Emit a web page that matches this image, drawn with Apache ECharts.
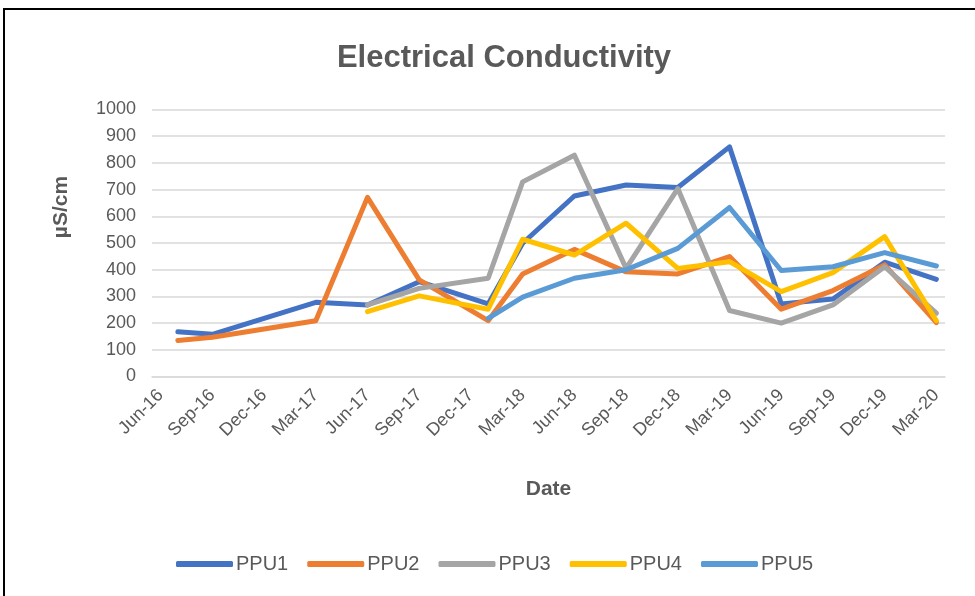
<!DOCTYPE html>
<html>
<head>
<meta charset="utf-8">
<script src="https://cdn.jsdelivr.net/npm/echarts@6/dist/echarts.min.js"></script>
<style>
  html, body { margin: 0; padding: 0; background: #fff; }
  #wrap { position: relative; width: 975px; height: 596px; overflow: hidden; }
  #chart { width: 975px; height: 596px; }
  #frame { position: absolute; left: 3px; top: 8px; width: 990px; height: 620px; border: 2px solid #000; box-sizing: border-box; pointer-events: none; }
</style>
</head>
<body>
<div id="wrap">
  <div id="chart"></div>
  <div id="frame"></div>
</div>
<script>
// monthly slots Jun-16 .. Mar-20, every 3rd one labelled
const monthNames = ["Jan", "Feb", "Mar", "Apr", "May", "Jun", "Jul", "Aug", "Sep", "Oct", "Nov", "Dec"];
const months = [];
for (let i = 0; i < 46; i++) {
  months.push(monthNames[(5 + i) % 12] + "-" + (16 + Math.floor((5 + i) / 12)));
}

const datesA = ["Jul-16", "Sep-16", "Mar-17", "Jun-17", "Sep-17", "Jan-18", "Mar-18", "Jun-18", "Sep-18", "Dec-18", "Mar-19", "Jun-19", "Sep-19", "Dec-19", "Mar-20"];
const ppu1 = [168, 158, 278, 268, 355, 272, 499, 676, 717, 708, 860, 272, 290, 428, 364];
const ppu2 = [135, 147, 209, 671, 362, 209, 384, 476, 392, 384, 449, 252, 322, 418, 202];

const datesB = ["Jun-17", "Sep-17", "Jan-18", "Mar-18", "Jun-18", "Sep-18", "Dec-18", "Mar-19", "Jun-19", "Sep-19", "Dec-19", "Mar-20"];
const ppu3 = [268, 330, 368, 729, 829, 405, 704, 247, 200, 268, 411, 237];
const ppu4 = [243, 302, 252, 514, 455, 574, 405, 430, 318, 389, 524, 209];

const datesC = ["Jan-18", "Mar-18", "Jun-18", "Sep-18", "Dec-18", "Mar-19", "Jun-19", "Sep-19", "Dec-19", "Mar-20"];
const ppu5 = [218, 297, 368, 400, 480, 633, 397, 411, 464, 414];

const names = ["PPU1", "PPU2", "PPU3", "PPU4", "PPU5"];
const colors = ["#4472C4", "#ED7D31", "#A5A5A5", "#FFC000", "#5B9BD5"];

const txt = "#595959";
const font = "Liberation Sans";

function pairs(dates, vals) {
  return dates.map((d, i) => [months.indexOf(d), vals[i]]);
}

const seriesData = [
  pairs(datesA, ppu1),
  pairs(datesA, ppu2),
  pairs(datesB, ppu3),
  pairs(datesB, ppu4),
  pairs(datesC, ppu5),
];

const chart = echarts.init(document.getElementById("chart"));
chart.setOption({
  animation: false,
  color: colors,
  title: {
    text: "Electrical Conductivity",
    left: 499,
    top: 38,
    textAlign: "center",
    textStyle: { fontFamily: font, fontSize: 31, fontWeight: "bold", color: txt },
  },
  legend: {
    data: names,
    left: 171,
    top: 549,
    icon: "roundRect",
    itemWidth: 57,
    itemHeight: 6,
    itemGap: 19,
    textStyle: { fontFamily: font, fontSize: 20, color: txt, padding: [0, 0, 0, -2] },
  },
  grid: { left: 152, right: 30, top: 109.5, bottom: 219.5 },
  xAxis: {
    type: "category",
    data: months,
    boundaryGap: true,
    name: "Date",
    nameLocation: "middle",
    nameGap: 102,
    nameTextStyle: { fontFamily: font, fontSize: 21, fontWeight: "bold", color: txt },
    axisTick: { show: false },
    axisLine: { lineStyle: { color: "#d9d9d9", width: 1.5 } },
    axisLabel: {
      interval: 2,
      rotate: 45,
      margin: 16,
      fontFamily: font,
      fontSize: 18,
      color: txt,
    },
    splitLine: { show: false },
  },
  yAxis: {
    type: "value",
    min: 0,
    max: 1000,
    interval: 100,
    name: "µS/cm",
    nameLocation: "middle",
    nameGap: 80,
    nameTextStyle: { fontFamily: font, fontSize: 21, fontWeight: "bold", color: txt, padding: [0, 0, 0, 72] },
    axisLine: { show: false },
    axisTick: { show: false },
    axisLabel: { margin: 16, fontFamily: font, fontSize: 18, color: txt, formatter: (v) => String(v) },
    splitLine: { lineStyle: { color: "#d9d9d9", width: 1.5 } },
  },
  series: names.map((n, i) => ({
    name: n,
    type: "line",
    data: seriesData[i],
    showSymbol: false,
    symbol: "none",
    lineStyle: { width: 5, color: colors[i], cap: "round", join: "round" },
  })),
});
</script>
</body>
</html>
